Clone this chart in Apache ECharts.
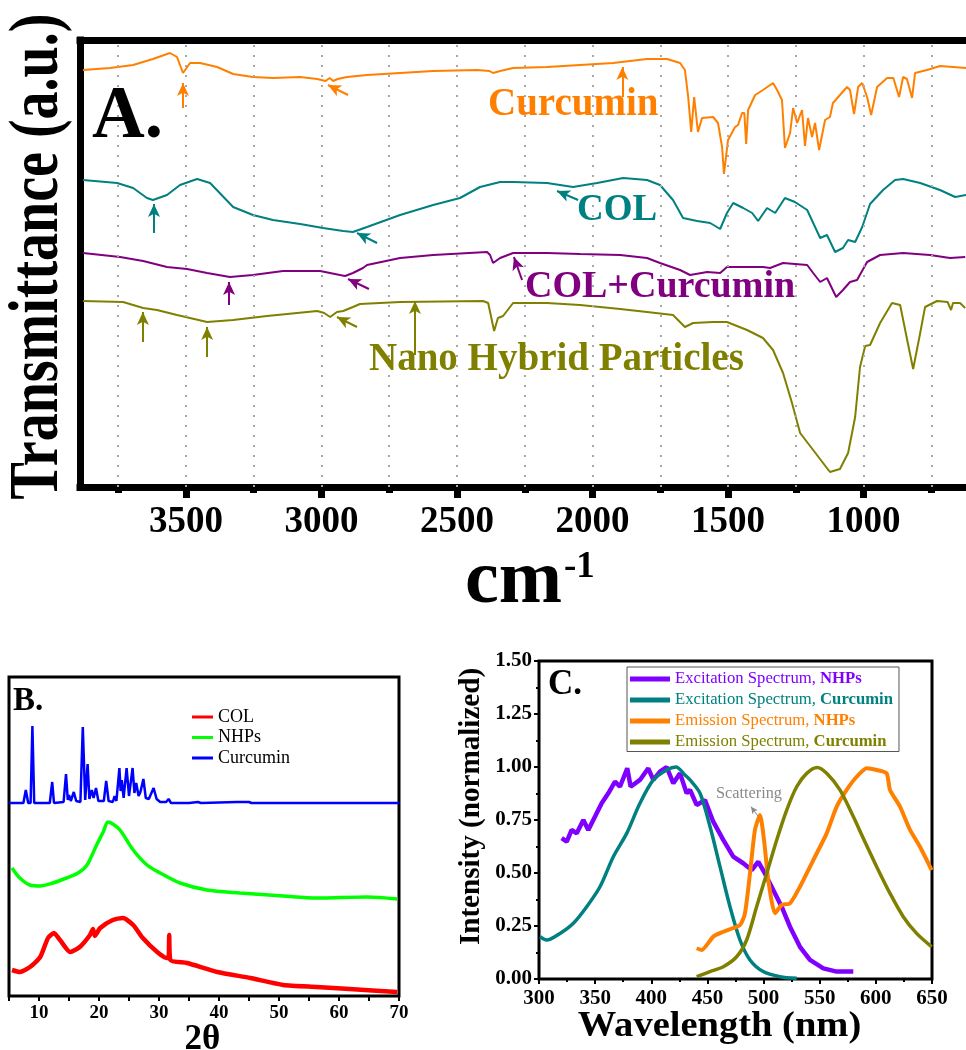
<!DOCTYPE html>
<html>
<head>
<meta charset="utf-8">
<script src="https://cdn.jsdelivr.net/npm/echarts@6.0.0/dist/echarts.min.js"></script>
<style>
  html, body { margin: 0; padding: 0; background: #fff; }
  #main { width: 966px; height: 1050px; }
</style>
</head>
<body>
<div id="main"></div>
<script>
// ---- A. FTIR  [wavenumber cm-1, transmittance a.u.] ----
var ftirCurcumin = [[3880,417],[3780,419],[3695,422],[3622,428],[3559,434],[3533,430],[3511,414],[3485,424],[3448,424],[3385,420],[3326,413],[3253,410],[3179,409],[3079,410],[3016,408],[2985,406],[2970,409],[2957,406],[2940,408],[2906,410],[2832,412],[2710,414],[2588,416],[2426,417],[2380,416],[2367,414],[2341,416],[2293,419],[2168,420],[2046,422],[1924,424],[1799,428],[1725,428],[1677,424],[1659,417],[1647,390],[1636,355],[1625,390],[1618,392],[1611,355],[1596,369],[1555,370],[1537,364],[1522,340],[1515,313],[1500,347],[1474,360],[1463,362],[1448,374],[1440,374],[1433,343],[1426,377],[1400,392],[1371,397],[1334,404],[1319,397],[1301,387],[1290,339],[1271,354],[1260,379],[1245,364],[1227,377],[1216,341],[1205,369],[1190,350],[1179,364],[1164,337],[1142,367],[1124,370],[1113,384],[1061,400],[1050,397],[1035,373],[1020,400],[1005,404],[987,390],[972,372],[950,400],[913,409],[890,409],[869,390],[854,410],[840,408],[821,389],[810,414],[766,417],[718,421],[670,420],[622,419]];
var ftirCol = [[3880,307],[3754,304],[3695,299],[3644,289],[3622,287],[3570,292],[3522,302],[3459,308],[3411,304],[3326,280],[3253,272],[3179,267],[3079,263],[2994,259],[2920,256],[2884,255],[2832,260],[2710,272],[2588,282],[2489,289],[2415,300],[2341,305],[2293,305],[2168,304],[2072,300],[1983,304],[1887,309],[1799,307],[1751,302],[1703,287],[1666,269],[1614,266],[1566,264],[1529,258],[1504,274],[1481,284],[1444,279],[1411,274],[1389,266],[1356,279],[1326,274],[1290,289],[1253,285],[1208,277],[1160,249],[1135,252],[1105,235],[1076,239],[1057,247],[1031,245],[1005,260],[976,283],[928,297],[884,307],[854,308],[791,304],[718,297],[662,290],[622,292]];
var ftirColCur = [[3880,234],[3743,230],[3658,226],[3570,220],[3496,218],[3422,214],[3338,210],[3253,212],[3142,216],[3005,216],[2932,212],[2913,211],[2884,214],[2847,219],[2832,222],[2710,229],[2588,232],[2389,235],[2378,232],[2367,224],[2341,229],[2293,234],[2168,234],[2046,233],[1898,232],[1799,229],[1751,224],[1677,217],[1640,212],[1577,215],[1529,214],[1504,220],[1430,220],[1371,220],[1345,219],[1297,224],[1208,222],[1186,214],[1160,205],[1135,209],[1101,190],[1076,197],[1050,205],[1024,207],[987,225],[939,232],[854,234],[755,232],[681,229],[625,230]];
var ftirNano = [[3880,186],[3732,185],[3658,179],[3607,177],[3533,172],[3422,165],[3326,167],[3201,171],[3016,176],[2990,174],[2968,170],[2943,175],[2920,176],[2884,180],[2858,183],[2710,185],[2404,186],[2385,184],[2363,156],[2349,169],[2330,171],[2293,184],[2168,184],[2046,182],[1898,178],[1799,175],[1703,172],[1659,160],[1629,164],[1555,165],[1504,165],[1430,157],[1371,149],[1334,137],[1297,114],[1264,84],[1234,54],[1186,37],[1124,15],[1087,18],[1057,34],[1031,70],[1013,120],[994,141],[976,142],[939,164],[895,184],[865,182],[839,147],[817,118],[791,154],[773,180],[729,186],[690,185],[677,177],[670,184],[644,184],[625,179]];
var ftirMajor = [3500, 3000, 2500, 2000, 1500, 1000];
var ftirMinor = [3750, 3250, 2750, 2250, 1750, 1250, 750];
var ftirGrid = [3750, 3500, 3250, 3000, 2750, 2500, 2250, 2000, 1750, 1500, 1250, 1000, 750];

// arrows [tail, head] in data units
var arrowsCurcumin = [[[3511,379],[3511,404]], [[2902,392],[2976,402]], [[1890,390],[1890,420]]];
var arrowsCol = [[[3618,254],[3618,283]], [[2795,244],[2869,254]], [[2053,287],[2131,296]]];
var arrowsColCur = [[[3341,182],[3341,205]], [[2825,198],[2902,208]], [[2260,207],[2290,230]]];
var arrowsNano = [[[3659,145],[3659,175]], [[3422,130],[3422,160]], [[2869,160],[2943,170]], [[2655,132],[2655,186]]];

// ---- B. XRD  [2theta, intensity a.u.] ----
var xrdCurcumin = [[5,193],[7.4,193],[7.8,206],[8.2,193],[8.6,193],[8.9,270],[9.2,193],[11.8,193],[12.2,214],[12.5,193],[14.1,194],[14.5,222],[14.8,196],[15.0,201],[15.3,195],[15.8,204],[16.2,195],[16.9,194],[17.3,269],[17.7,196],[18.1,232],[18.4,197],[18.8,206],[19.1,198],[19.5,208],[19.9,195],[20.8,195],[21.2,215],[21.6,195],[22.3,194],[22.6,200],[22.9,195],[23.4,228],[23.6,205],[23.8,216],[24.1,198],[24.6,228],[25.0,200],[25.6,228],[25.9,203],[26.2,213],[26.6,200],[26.9,204],[27.4,217],[27.8,198],[28.3,197],[29.1,208],[29.6,197],[30.2,194],[31.2,194],[31.6,197],[32.0,193],[35,193],[36.5,194],[37,193],[43,194],[43.3,193],[45,194],[45.4,193],[70,193]];
var xrdNhps = [[5.5,128],[6.8,118],[8.5,111],[10.2,110],[12.3,113],[14.6,118],[16.5,123],[18,131],[19.6,151],[20.7,164],[21.5,174],[22.3,172],[23.5,166],[25.7,146],[28,131],[30.2,123],[33.5,113],[38,106],[43.5,103],[50.7,100],[56.3,98],[64.7,99],[69.7,97]];
var xrdCol = [[5.5,26],[6.8,24],[8.5,29],[10.2,39],[11.5,58],[12.5,63],[13.5,56],[15.2,44],[16.8,49],[18.5,61],[19,67],[19.3,60],[20.2,68],[22.3,76],[24,78],[25.7,71],[27.3,58],[29.7,44],[31.3,38],[31.6,38],[31.7,61],[31.9,36],[34.7,33],[39.7,24],[45.2,18],[50.7,11],[56.3,9],[61.8,7],[69.7,4]];
var xrdLabels = [10, 20, 30, 40, 50, 60, 70];
var xrdTicks = [5, 10, 15, 20, 25, 30, 35, 40, 45, 50, 55, 60, 65, 70];

// ---- C. Fluorescence  [nm, normalized intensity] ----
var exNhps = [[320.2,0.664],[324.7,0.648],[329.1,0.703],[333.6,0.687],[339.5,0.75],[343.9,0.703],[349.9,0.766],[355.8,0.829],[361.7,0.876],[367.7,0.931],[372.1,0.907],[378.6,0.994],[381.6,0.907],[389.9,0.939],[397.3,0.994],[401.8,0.939],[407.7,0.978],[413.7,1.0],[419.6,0.923],[425.6,0.97],[431.5,0.876],[434.5,0.892],[440.4,0.821],[447.8,0.844],[455.2,0.742],[464.1,0.656],[473,0.577],[481.9,0.546],[489.4,0.514],[495.3,0.553],[501.2,0.498],[508.6,0.42],[516.1,0.341],[523.5,0.247],[532.4,0.152],[541.3,0.09],[553.2,0.05],[565.1,0.035],[579.9,0.035]];
var exCurcumin = [[300.9,0.2],[306.8,0.184],[318.7,0.215],[330.6,0.263],[342.5,0.341],[354.3,0.435],[366.2,0.577],[378.1,0.687],[389.9,0.829],[401.8,0.939],[413.7,0.986],[422,1.0],[430,0.962],[434.5,0.939],[443.4,0.876],[452.3,0.719],[461.2,0.53],[470.1,0.341],[479,0.184],[487.9,0.09],[499.7,0.035],[514.6,0.011],[529.5,0.003]];
var emNhps = [[440.4,0.145],[444.9,0.137],[455.2,0.2],[464.1,0.223],[479,0.255],[483.4,0.31],[487.9,0.498],[492.3,0.703],[496.8,0.774],[500.4,0.656],[504.2,0.467],[510.2,0.31],[516.1,0.349],[523.5,0.357],[532.4,0.435],[544.3,0.561],[556.2,0.687],[565.1,0.813],[574,0.892],[582.9,0.954],[591.8,0.994],[600.7,0.986],[609.6,0.97],[612.6,0.892],[621.5,0.813],[630.4,0.703],[639.3,0.624],[649.7,0.514]];
var emCurcumin = [[440.4,0.011],[452.3,0.035],[464.1,0.058],[476,0.105],[484.9,0.184],[493.8,0.341],[502.8,0.498],[511.7,0.656],[520.6,0.797],[529.5,0.907],[538.4,0.97],[547.8,0.998],[556.2,0.97],[568,0.892],[579.9,0.766],[588.8,0.664],[600.7,0.53],[612.6,0.404],[624.4,0.294],[636.3,0.215],[649.7,0.152]];
var scatterArrow = [[495.3,0.766],[488.8,0.813]];
var flNames = ['Excitation Spectrum, NHPs', 'Excitation Spectrum, Curcumin', 'Emission Spectrum, NHPs', 'Emission Spectrum, Curcumin'];
var flColors = ['#8000ff', '#008080', '#ff8000', '#808000'];

var F = 'Liberation Serif';

var chart = echarts.init(document.getElementById('main'));

function arrowLines(list) {
    return list.map(function (a) {
        return [{ coord: a[0] }, { coord: a[1] }];
    });
}

function ftirSeries(name, data, color, arrows) {
    return {
        name: name, type: 'line', xAxisIndex: 0, yAxisIndex: 0,
        data: data, showSymbol: false, symbol: 'none', z: 3,
        lineStyle: { color: color, width: 2 },
        markLine: {
            silent: true, animation: false,
            symbol: ['none', 'arrow'], symbolSize: [9, 13],
            label: { show: false },
            lineStyle: { color: color, width: 2, type: 'solid' },
            data: arrowLines(arrows)
        }
    };
}

function txt(text, x, y, size, color, opt) {
    opt = opt || {};
    return {
        type: 'text', x: x, y: y, z: 20,
        rotation: opt.rotation || 0,
        scaleX: opt.scaleX || 1,
        style: {
            text: text,
            font: (opt.weight || 'bold') + ' ' + size + 'px "' + F + '"',
            fill: color,
            textAlign: opt.align || 'left', align: opt.align || 'left',
            textVerticalAlign: 'middle', verticalAlign: 'middle'
        }
    };
}

var option = {
    backgroundColor: '#fff',
    animation: false,
    textStyle: { fontFamily: F },
    grid: [
        { left: 80, right: 0, top: 40, height: 447 },
        { left: 9, top: 677, width: 390, height: 319, show: true, borderColor: '#000', borderWidth: 3, backgroundColor: 'transparent' },
        { left: 539, top: 661, width: 393, height: 318, show: true, borderColor: '#000', borderWidth: 3, backgroundColor: 'transparent' }
    ],
    xAxis: [
        { // A: bottom, major ticks + labels
            gridIndex: 0, type: 'value', min: 622, max: 3891, inverse: true, position: 'bottom',
            axisLine: { show: true, lineStyle: { color: '#000', width: 7, cap: 'square' } },
            axisTick: { show: true, customValues: ftirMajor, length: 11, lineStyle: { color: '#000', width: 7 } },
            axisLabel: { customValues: ftirMajor, fontSize: 37, fontWeight: 'bold', fontFamily: F, color: '#000', margin: 17,
                         formatter: function (v) { return String(v); } },
            splitLine: { show: false }
        },
        { // A: bottom, minor ticks
            gridIndex: 0, type: 'value', min: 622, max: 3891, inverse: true, position: 'bottom',
            axisLine: { show: false },
            axisTick: { show: true, customValues: ftirMinor, length: 6, lineStyle: { color: '#000', width: 7 } },
            axisLabel: { show: false }, splitLine: { show: false }
        },
        { // A: top border
            gridIndex: 0, type: 'value', min: 622, max: 3891, inverse: true, position: 'top',
            axisLine: { show: true, lineStyle: { color: '#000', width: 7, cap: 'square' } },
            axisTick: { show: false }, axisLabel: { show: false }, splitLine: { show: false }
        },
        { // B
            gridIndex: 1, type: 'value', min: 5, max: 70,
            axisLine: { show: false },
            axisTick: { show: true, customValues: xrdTicks, length: 5, lineStyle: { color: '#000', width: 2 } },
            axisLabel: { customValues: xrdLabels, fontSize: 19, fontWeight: 'bold', fontFamily: F, color: '#000', margin: 8 },
            splitLine: { show: false }
        },
        { // C
            gridIndex: 2, type: 'value', min: 300, max: 650, interval: 50,
            axisLine: { show: false },
            axisTick: { show: true, length: 5, lineStyle: { color: '#000', width: 2 } },
            minorTick: { show: true, splitNumber: 2, length: 3, lineStyle: { color: '#000', width: 2 } },
            axisLabel: { fontSize: 21, fontWeight: 'bold', fontFamily: F, color: '#000', margin: 9 },
            splitLine: { show: false }
        }
    ],
    yAxis: [
        {
            gridIndex: 0, type: 'value', min: 0, max: 447,
            axisLine: { show: true, lineStyle: { color: '#000', width: 7, cap: 'square' } },
            axisTick: { show: false }, axisLabel: { show: false }, splitLine: { show: false }
        },
        {
            gridIndex: 1, type: 'value', min: 0, max: 319,
            axisLine: { show: false }, axisTick: { show: false }, axisLabel: { show: false }, splitLine: { show: false }
        },
        {
            gridIndex: 2, type: 'value', min: 0, max: 1.5, interval: 0.25,
            axisLine: { show: false },
            axisTick: { show: true, length: 5, lineStyle: { color: '#000', width: 2 } },
            minorTick: { show: true, splitNumber: 2, length: 3, lineStyle: { color: '#000', width: 2 } },
            axisLabel: {
                fontSize: 21, fontWeight: 'bold', fontFamily: F, color: '#000', margin: 7,
                formatter: function (v) { return v.toFixed(2); }
            },
            splitLine: { show: false }
        }
    ],
    legend: [
        {
            data: ['COL', 'NHPs', 'Curcumin'],
            orient: 'vertical', left: 192, top: 708, padding: 0,
            icon: 'rect', itemWidth: 21, itemHeight: 3, itemGap: 2.5,
            selectedMode: false,
            textStyle: { fontFamily: F, fontSize: 18, lineHeight: 18, color: '#000' }
        },
        {
            data: flNames.map(function (n, i) {
                return {
                    name: n,
                    textStyle: {
                        color: flColors[i],
                        rich: { b: { color: flColors[i], fontWeight: 'bold', fontSize: 16.7, fontFamily: F, lineHeight: 17 } }
                    }
                };
            }),
            formatter: function (n) { return n.replace(/, (.+)$/, ', {b|$1}'); },
            orient: 'vertical', left: 627, top: 667, padding: [3.5, 6, 1, 3],
            borderColor: '#555', borderWidth: 1,
            icon: 'rect', itemWidth: 40, itemHeight: 5, itemGap: 4,
            selectedMode: false,
            textStyle: {
                fontFamily: F, fontSize: 16.7, lineHeight: 17,
                rich: { b: { fontWeight: 'bold', fontSize: 16.7, fontFamily: F, lineHeight: 17 } }
            }
        }
    ],
    graphic: [
        txt('Transmittance (a.u.)', 39.4, 256.5, 70, '#000', { rotation: Math.PI / 2, scaleX: 0.8, align: 'center' }),
        txt('cm', 465, 582, 76, '#000'),
        txt('-1', 564, 567.5, 37, '#000'),
        txt('A.', 92, 118, 73, '#000'),
        txt('Curcumin', 488, 105, 39, '#ff8000'),
        txt('COL', 577, 210.5, 37, '#008080'),
        txt('COL+Curcumin', 525, 287, 38, '#800080'),
        txt('Nano Hybrid Particles', 369, 360, 39, '#808000'),
        txt('B.', 13, 701, 33, '#000'),
        txt('2\u03b8', 202.5, 1040, 35, '#000', { align: 'center' }),
        txt('C.', 548, 685, 35, '#000'),
        txt('Wavelength (nm)', 719.5, 1027, 36, '#000', { align: 'center', scaleX: 1.07 }),
        txt('Intensity (normalized)', 471.6, 806.5, 30, '#000', { rotation: Math.PI / 2, scaleX: 0.97, align: 'center' }),
        txt('Scattering', 749, 794, 16.3, '#8a8a8a', { weight: 'normal', align: 'center' })
    ],
    series: [
        { // dotted guide lines of panel A
            name: 'ftir-grid', type: 'line', xAxisIndex: 0, yAxisIndex: 0, data: [], z: 1,
            markLine: {
                silent: true, animation: false, symbol: 'none',
                label: { show: false },
                lineStyle: { color: '#a8a8a8', width: 2, type: [2, 8] },
                data: ftirGrid.map(function (v) { return { xAxis: v }; })
            }
        },
        ftirSeries('FTIR Curcumin', ftirCurcumin, '#ff8000', arrowsCurcumin),
        ftirSeries('FTIR COL', ftirCol, '#008080', arrowsCol),
        ftirSeries('FTIR COL+Curcumin', ftirColCur, '#800080', arrowsColCur),
        ftirSeries('FTIR Nano Hybrid Particles', ftirNano, '#808000', arrowsNano),

        { name: 'COL', type: 'line', xAxisIndex: 3, yAxisIndex: 1, data: xrdCol, showSymbol: false, symbol: 'none', smooth: 0.2,
          itemStyle: { color: '#ff0000' }, lineStyle: { color: '#ff0000', width: 4.5 } },
        { name: 'NHPs', type: 'line', xAxisIndex: 3, yAxisIndex: 1, data: xrdNhps, showSymbol: false, symbol: 'none', smooth: 0.3,
          itemStyle: { color: '#00ff00' }, lineStyle: { color: '#00ff00', width: 3.5 } },
        { name: 'Curcumin', type: 'line', xAxisIndex: 3, yAxisIndex: 1, data: xrdCurcumin, showSymbol: false, symbol: 'none',
          itemStyle: { color: '#0000ff' }, lineStyle: { color: '#0000ff', width: 2.5 } },

        { name: flNames[0], type: 'line', xAxisIndex: 4, yAxisIndex: 2, data: exNhps, showSymbol: false, symbol: 'none',
          itemStyle: { color: flColors[0] }, lineStyle: { color: flColors[0], width: 4.5 } },
        { name: flNames[1], type: 'line', xAxisIndex: 4, yAxisIndex: 2, data: exCurcumin, showSymbol: false, symbol: 'none', smooth: 0.3,
          itemStyle: { color: flColors[1] }, lineStyle: { color: flColors[1], width: 3.5 } },
        { name: flNames[2], type: 'line', xAxisIndex: 4, yAxisIndex: 2, data: emNhps, showSymbol: false, symbol: 'none', smooth: 0.2,
          itemStyle: { color: flColors[2] }, lineStyle: { color: flColors[2], width: 4 },
          markLine: {
              silent: true, animation: false, symbol: ['none', 'arrow'], symbolSize: [5, 7],
              label: { show: false },
              lineStyle: { color: '#888', width: 1, type: 'solid' },
              data: [[{ coord: scatterArrow[0] }, { coord: scatterArrow[1] }]]
          } },
        { name: flNames[3], type: 'line', xAxisIndex: 4, yAxisIndex: 2, data: emCurcumin, showSymbol: false, symbol: 'none', smooth: 0.3,
          itemStyle: { color: flColors[3] }, lineStyle: { color: flColors[3], width: 3.5 } }
    ]
};

chart.setOption(option);
</script>
</body>
</html>
